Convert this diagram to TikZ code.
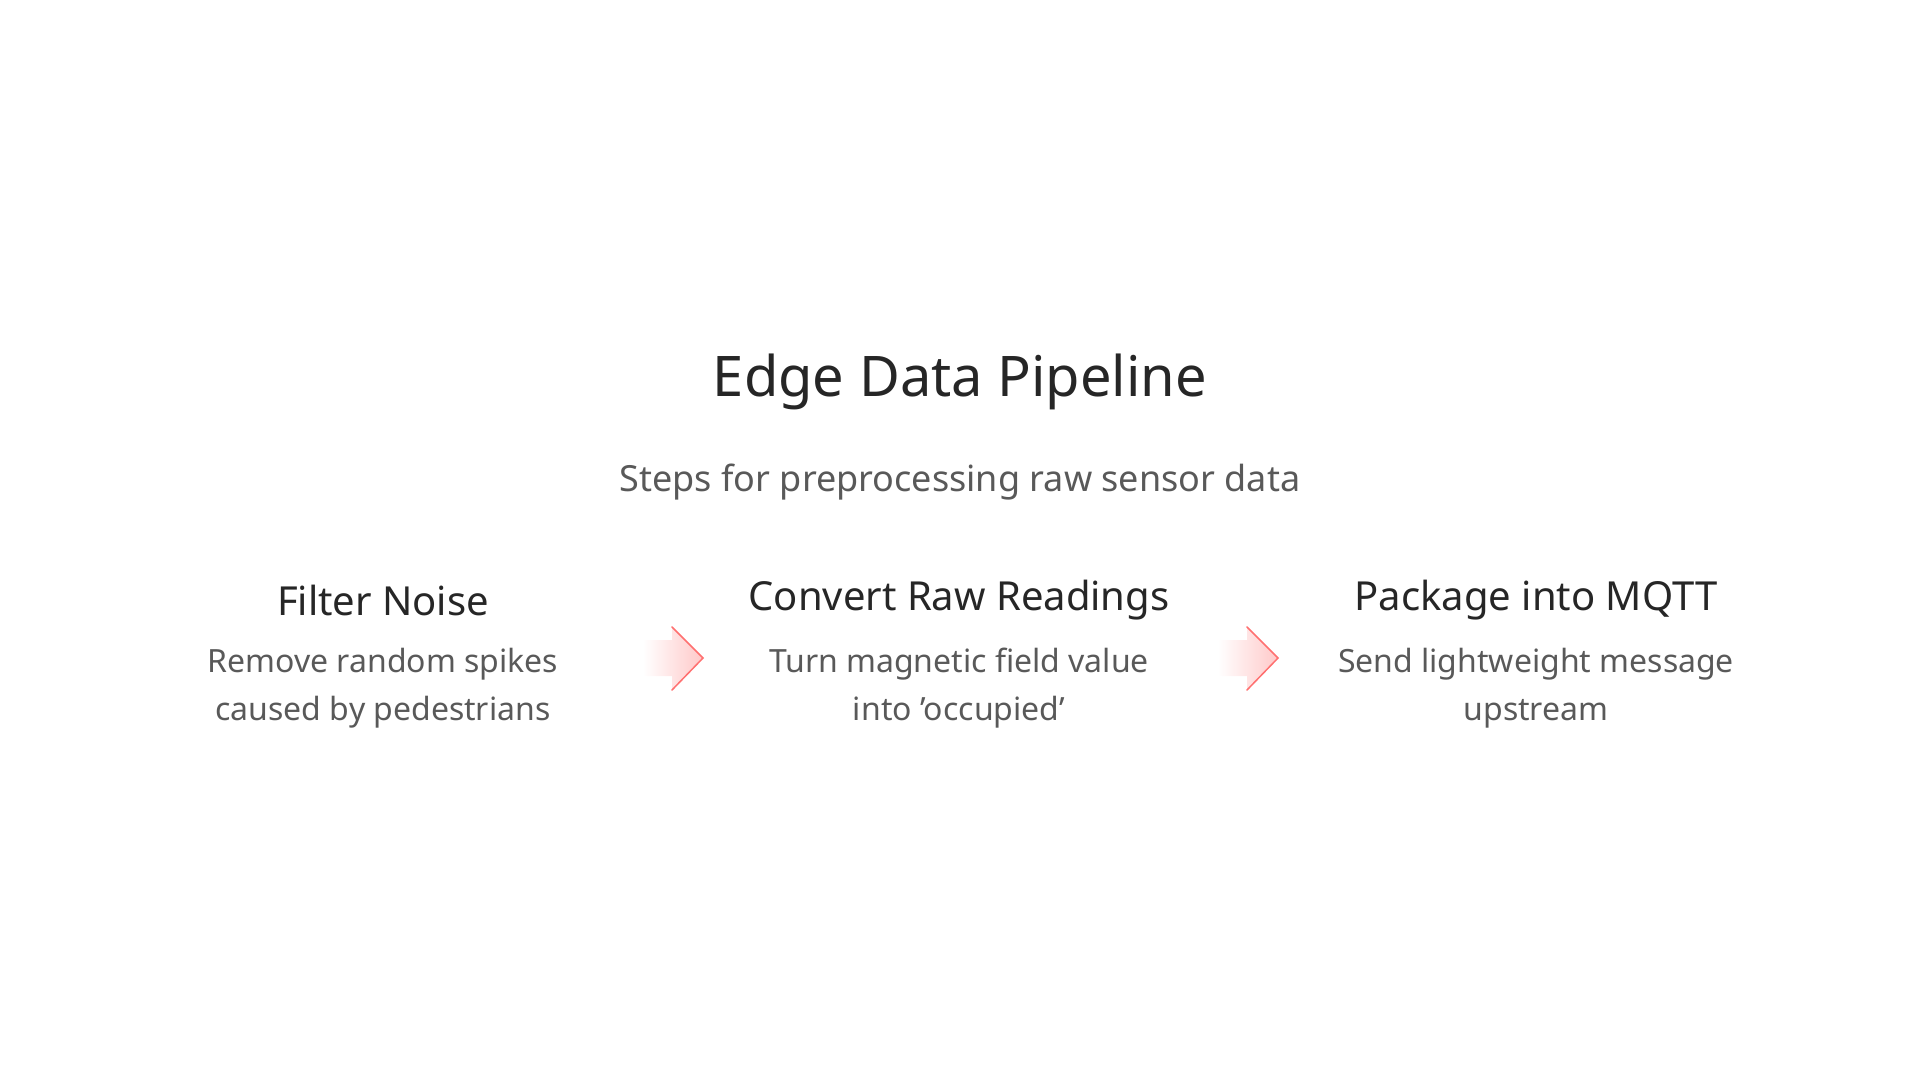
\documentclass[tikz,border=0pt]{standalone}
\usepackage{fontspec}
\setmainfont{Noto Sans}
\begin{document}
\begin{tikzpicture}[x=1pt,y=-1pt,
  title/.style={font=\fontsize{56}{64}\selectfont, text=black!85},
  sub/.style={font=\fontsize{36}{44}\selectfont, text=black!65},
  head/.style={font=\fontsize{40}{48}\selectfont\bfseries, text=black!85},
  desc/.style={font=\fontsize{32}{48}\selectfont, text=black!65, align=center},
  parrow/.style={left color=white, right color=pink!70!red!45, draw=none}]
\useasboundingbox (0,0) rectangle (1920,1080);
\node[title] (t) at (960,382) {Edge Data Pipeline};
\node[sub] (s) at (960,482) {Steps for preprocessing raw sensor data};
\foreach \n/\x/\h/\d in {a/383/Filter Noise/{Remove random spikes\\caused by pedestrians},
  b/959/Convert Raw Readings/{Turn magnetic field value\\into 'occupied'},
  c/1536/Package into MQTT/{Send lightweight message\\upstream}}{
  \node[head] (h\n) at (\x,600) {\h};
  \node[desc] (d\n) at (\x,688) {\d};
}
\foreach \ax/\nm in {643/ar1,1218/ar2}{
  \path[parrow] (\ax,640) -- (\ax+29,640) -- (\ax+29,627) -- (\ax+60,658) -- (\ax+29,690) -- (\ax+29,676) -- (\ax,676) -- cycle;
  \draw[pink!40!red!80, line width=1.5pt, line cap=round] (\ax+29,627) -- (\ax+60,658) -- (\ax+29,690);
  \coordinate (\nm) at (\ax,658);
}
\end{tikzpicture}
\end{document}
